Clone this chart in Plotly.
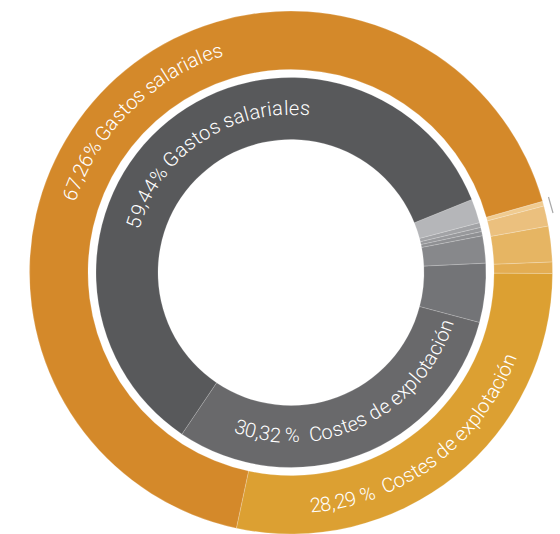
import math
import plotly.graph_objects as go

W, H = 560, 534

# ---- data -------------------------------------------------------------
# Outer ring, listed clockwise from the first slice
outer_labels = ["Otros gastos A", "Otros gastos B", "Otros gastos C", "Otros gastos D",
                "Costes de explotación", "Gastos salariales"]
outer_values = [0.30, 1.25, 2.20, 0.70, 28.29, 67.26]
outer_colors = ["#F0CB90", "#EBC07E", "#E6B563", "#E3AD53", "#DCA032", "#D4892A"]

# Inner ring, listed clockwise from the first slice
inner_labels = ["Otros A", "Otros B", "Otros C", "Otros D", "Otros E", "Otros F",
                "Costes de explotación", "Gastos salariales"]
inner_values = [2.00, 0.40, 0.35, 0.35, 2.25, 4.89, 30.32, 59.44]
inner_colors = ["#B5B6B9", "#A2A3A6", "#98999C", "#8F9093", "#87888B", "#737477",
                "#69696B", "#58595B"]

outer_top_text = "67,26% Gastos salariales"
outer_bottom_text = "28,29 %  Costes de explotación"
inner_top_text = "59,44% Gastos salariales"
inner_bottom_text = "30,32 %  Costes de explotación"

# ---- geometry (pixels) ------------------------------------------------
CX = 291.0
TOP = 11.0
R_OUT = (H - TOP) / 2.0          # outer radius limited by the canvas height
CY = TOP + R_OUT
R_OUT_IN = 203.0                 # inner edge of the outer ring
R_IN = 195.0                     # outer edge of the inner ring
R_IN_IN = 133.0                  # hole


def domain(r):
    return dict(x=[(CX - r) / W, (CX + r) / W],
                y=[1 - (CY + r) / H, 1 - (CY - r) / H])


fig = go.Figure()
fig.add_trace(go.Pie(
    labels=outer_labels, values=outer_values, sort=False, direction="clockwise",
    rotation=74.2, hole=R_OUT_IN / R_OUT, domain=domain(R_OUT),
    marker=dict(colors=outer_colors, line=dict(color="rgba(255,255,255,0.35)", width=0.6)),
    textinfo="none", hoverinfo="label+percent", showlegend=False,
))
fig.add_trace(go.Pie(
    labels=inner_labels, values=inner_values, sort=False, direction="clockwise",
    rotation=68.0, hole=R_IN_IN / R_IN, domain=domain(R_IN),
    marker=dict(colors=inner_colors, line=dict(color="rgba(255,255,255,0.3)", width=0.6)),
    textinfo="none", hoverinfo="label+percent", showlegend=False,
))

# ---- curved labels ----------------------------------------------------
EM = {" ": 0.248, ",": 0.196, "%": 0.733, "G": 0.68, "C": 0.652, "a": 0.544,
      "s": 0.516, "t": 0.327, "o": 0.57, "l": 0.242, "r": 0.338, "i": 0.243,
      "e": 0.529, "d": 0.562, "x": 0.496, "p": 0.561, "c": 0.523, "ó": 0.57,
      "n": 0.551}
FONT = dict(family="Roboto, 'Open Sans', sans-serif", size=20, color="white", weight=300)
annotations = []


def curved(text, r, a0, a1, bottom):
    widths = [EM.get(ch, 0.562) for ch in text]
    centers, acc = [], 0.0
    for w in widths:
        centers.append(acc + w / 2)
        acc += w
    c0, c1 = centers[0], centers[-1]
    for ch, c in zip(text, centers):
        if ch == " ":
            continue
        a = a0 + (a1 - a0) * (c - c0) / (c1 - c0)
        rad = math.radians(a)
        px = CX + r * math.sin(rad)
        py = CY - r * math.cos(rad)
        ang = a - 180 if bottom else a
        ang = ((ang + 180) % 360) - 180
        annotations.append(dict(
            x=px / W, y=1 - py / H, xref="paper", yref="paper", text=ch,
            showarrow=False, textangle=ang, font=FONT,
            xanchor="center", yanchor="middle",
        ))


curved(outer_top_text, 234, 289.4, 341.5, bottom=False)
curved(inner_top_text, 165, 287.9, 364.9, bottom=False)
curved(inner_bottom_text, 163, 198.2, 109.0, bottom=True)
curved(outer_bottom_text, 234, 174.1, 111.9, bottom=True)

fig.update_layout(
    width=W, height=H,
    margin=dict(l=0, r=0, t=0, b=0),
    paper_bgcolor="white", plot_bgcolor="white",
    annotations=annotations,
    shapes=[dict(type="line", xref="paper", yref="paper",
                 x0=548.5 / W, y0=1 - 197 / H, x1=553 / W, y1=1 - 213 / H,
                 line=dict(color="#A8A8A8", width=1.2))],
)

fig.write_html("out.html")
